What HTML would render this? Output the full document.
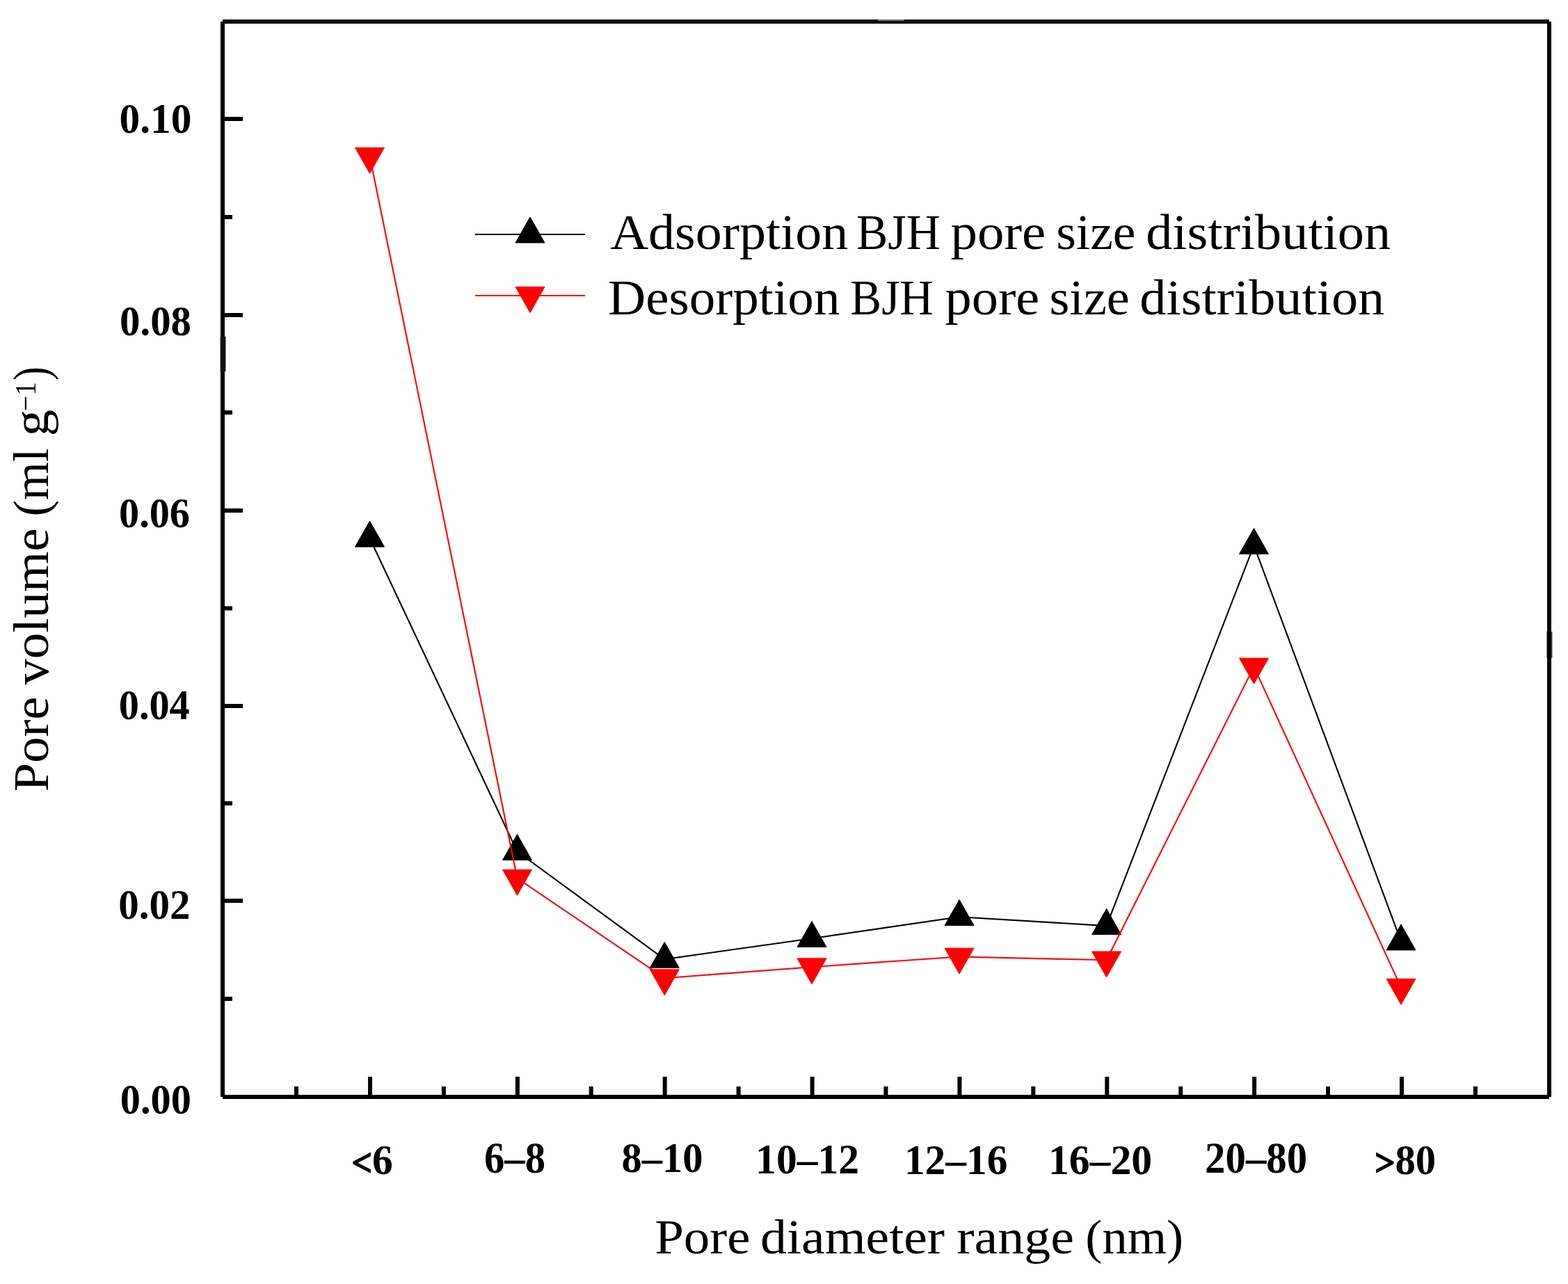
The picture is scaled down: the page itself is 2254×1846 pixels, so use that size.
<!DOCTYPE html>
<html><head><meta charset="utf-8"><title>Pore size distribution</title>
<style>html,body{margin:0;padding:0;background:#fff;}body{width:2254px;height:1846px;overflow:hidden;}svg{display:block;}text{font-family:'Liberation Serif', serif;fill:#000;}.b{font-weight:bold;}</style>
</head><body>
<svg width="2254" height="1846" viewBox="0 0 2254 1846">
<rect x="0" y="0" width="2254" height="1846" fill="#fff"/>
<g fill="#000">
<rect x="317" y="31" width="6" height="1546"/>
<rect x="320" y="28" width="1907" height="6"/>
<rect x="2224" y="31" width="6" height="1546"/>
<rect x="320" y="1574" width="1907" height="6"/>
<rect x="323" y="168" width="26" height="6"/>
<rect x="323" y="450" width="26" height="6"/>
<rect x="323" y="731" width="26" height="6"/>
<rect x="323" y="1012" width="26" height="6"/>
<rect x="323" y="1292" width="26" height="6"/>
<rect x="323" y="309" width="11" height="6"/>
<rect x="323" y="590" width="11" height="6"/>
<rect x="323" y="871.5" width="11" height="6"/>
<rect x="323" y="1152" width="11" height="6"/>
<rect x="323" y="1433" width="11" height="6"/>
<rect x="529.0" y="1548" width="6" height="26"/>
<rect x="740.9" y="1548" width="6" height="26"/>
<rect x="952.7" y="1548" width="6" height="26"/>
<rect x="1164.6" y="1548" width="6" height="26"/>
<rect x="1376.4" y="1548" width="6" height="26"/>
<rect x="1588.3" y="1548" width="6" height="26"/>
<rect x="1800.1" y="1548" width="6" height="26"/>
<rect x="2012.0" y="1548" width="6" height="26"/>
<rect x="423.0" y="1562" width="6" height="12"/>
<rect x="634.9" y="1562" width="6" height="12"/>
<rect x="846.7" y="1562" width="6" height="12"/>
<rect x="1058.6" y="1562" width="6" height="12"/>
<rect x="1270.4" y="1562" width="6" height="12"/>
<rect x="1482.3" y="1562" width="6" height="12"/>
<rect x="1694.2" y="1562" width="6" height="12"/>
<rect x="1906.0" y="1562" width="6" height="12"/>
<rect x="2117.9" y="1562" width="6" height="12"/>
</g>
<defs><linearGradient id="tg" x1="0" y1="0" x2="0" y2="1"><stop offset="0" stop-color="#f2f2f2"/><stop offset="1" stop-color="#000"/></linearGradient></defs>
<rect x="1262" y="27" width="38" height="4" fill="url(#tg)"/>
<defs><linearGradient id="lg" x1="0" y1="0" x2="1" y2="0"><stop offset="0" stop-color="#fff"/><stop offset="0.22" stop-color="#111"/><stop offset="0.88" stop-color="#111"/><stop offset="1" stop-color="#fff"/></linearGradient><linearGradient id="rg" x1="0" y1="0" x2="1" y2="0"><stop offset="0" stop-color="#fff"/><stop offset="0.12" stop-color="#000"/><stop offset="0.68" stop-color="#000"/><stop offset="1" stop-color="#fff"/></linearGradient></defs>
<rect x="315.6" y="484" width="9.4" height="50" fill="url(#lg)"/>
<rect x="2223" y="908" width="9.6" height="38" fill="url(#rg)"/>
<polyline points="531.50,773.80 743.50,1224.20 955.30,1379.10 1167.00,1349.20 1379.00,1318.20 1590.60,1331.10 1802.50,784.10 2014.00,1353.60" fill="none" stroke="#000" stroke-width="2.1" stroke-linejoin="round"/>
<g fill="#000" stroke="#000" stroke-width="1" stroke-linejoin="round">
<polygon points="531.50,749.13 552.50,786.13 510.50,786.13"/>
<polygon points="743.50,1199.53 764.50,1236.53 722.50,1236.53"/>
<polygon points="955.30,1354.43 976.30,1391.43 934.30,1391.43"/>
<polygon points="1167.00,1324.53 1188.00,1361.53 1146.00,1361.53"/>
<polygon points="1379.00,1293.53 1400.00,1330.53 1358.00,1330.53"/>
<polygon points="1590.60,1306.43 1611.60,1343.43 1569.60,1343.43"/>
<polygon points="1802.50,759.43 1823.50,796.43 1781.50,796.43"/>
<polygon points="2014.00,1328.93 2035.00,1365.93 1993.00,1365.93"/>
</g>
<polyline points="531.50,224.70 743.50,1262.70 955.30,1406.20 1167.00,1390.20 1379.00,1375.50 1590.60,1380.30 1802.50,958.60 2014.00,1419.60" fill="none" stroke="#f00" stroke-width="2.1" stroke-linejoin="round"/>
<g fill="#f00" stroke="#f00" stroke-width="1" stroke-linejoin="round">
<polygon points="510.50,212.37 552.50,212.37 531.50,249.37"/>
<polygon points="722.50,1250.37 764.50,1250.37 743.50,1287.37"/>
<polygon points="934.30,1393.87 976.30,1393.87 955.30,1430.87"/>
<polygon points="1146.00,1377.87 1188.00,1377.87 1167.00,1414.87"/>
<polygon points="1358.00,1363.17 1400.00,1363.17 1379.00,1400.17"/>
<polygon points="1569.60,1367.97 1611.60,1367.97 1590.60,1404.97"/>
<polygon points="1781.50,946.27 1823.50,946.27 1802.50,983.27"/>
<polygon points="1993.00,1407.27 2035.00,1407.27 2014.00,1444.27"/>
</g>
<rect x="683" y="336" width="158" height="2" fill="#000"/>
<polygon points="762.00,312.03 783.00,349.03 741.00,349.03" fill="#000" stroke="#000" stroke-width="1" stroke-linejoin="round"/>
<rect x="683" y="424" width="158" height="2" fill="#f00"/>
<polygon points="741.00,412.47 783.00,412.47 762.00,449.47" fill="#f00" stroke="#f00" stroke-width="1" stroke-linejoin="round"/>
<text class="b" x="171.57" y="191.21" font-size="62.27" textLength="103.86" lengthAdjust="spacingAndGlyphs">0.10</text>
<text class="b" x="171.99" y="481.99" font-size="61.05" textLength="103.02" lengthAdjust="spacingAndGlyphs">0.08</text>
<text class="b" x="171.01" y="757.99" font-size="61.05" textLength="101.99" lengthAdjust="spacingAndGlyphs">0.06</text>
<text class="b" x="170.72" y="1034.22" font-size="61.72" textLength="102.07" lengthAdjust="spacingAndGlyphs">0.04</text>
<text class="b" x="170.37" y="1320.80" font-size="61.54" textLength="103.24" lengthAdjust="spacingAndGlyphs">0.02</text>
<text class="b" x="172.79" y="1601.00" font-size="61.54" textLength="102.21" lengthAdjust="spacingAndGlyphs">0.00</text>
<text class="b" x="505.59" y="1687.79" font-size="62.10" textLength="59.22" lengthAdjust="spacingAndGlyphs"><tspan stroke="#000" stroke-width="1.6" font-size="54" dy="2">&lt;</tspan><tspan dy="-2">6</tspan></text>
<text class="b" x="695.99" y="1686.00" font-size="62.67" textLength="88.02" lengthAdjust="spacingAndGlyphs">6–8</text>
<text class="b" x="893.59" y="1685.24" font-size="61.18" textLength="117.02" lengthAdjust="spacingAndGlyphs">8–10</text>
<text class="b" x="1086.11" y="1687.42" font-size="60.74" textLength="148.95" lengthAdjust="spacingAndGlyphs">10–12</text>
<text class="b" x="1299.92" y="1688.00" font-size="60.25" textLength="148.41" lengthAdjust="spacingAndGlyphs">12–16</text>
<text class="b" x="1506.89" y="1688.00" font-size="60.25" textLength="149.27" lengthAdjust="spacingAndGlyphs">16–20</text>
<text class="b" x="1732.08" y="1685.50" font-size="62.68" textLength="147.04" lengthAdjust="spacingAndGlyphs">20–80</text>
<text class="b" x="1976.16" y="1688.39" font-size="61.83" textLength="88.04" lengthAdjust="spacingAndGlyphs"><tspan stroke="#000" stroke-width="1.6" font-size="54" dy="2">&gt;</tspan><tspan dy="-2">80</tspan></text>
<text x="877.20" y="357.80" font-size="72.50" textLength="342.01" lengthAdjust="spacingAndGlyphs">Adsorption</text>
<text x="1230.97" y="357.80" font-size="72.50" textLength="120.87" lengthAdjust="spacingAndGlyphs">BJH</text>
<text x="1366.58" y="357.80" font-size="72.50" textLength="136.68" lengthAdjust="spacingAndGlyphs">pore</text>
<text x="1518.21" y="357.80" font-size="72.50" textLength="114.25" lengthAdjust="spacingAndGlyphs">size</text>
<text x="1647.18" y="357.80" font-size="72.50" textLength="352.03" lengthAdjust="spacingAndGlyphs">distribution</text>
<text x="873.99" y="451.90" font-size="71.00" textLength="333.42" lengthAdjust="spacingAndGlyphs">Desorption</text>
<text x="1222.37" y="451.90" font-size="71.00" textLength="119.36" lengthAdjust="spacingAndGlyphs">BJH</text>
<text x="1358.58" y="451.90" font-size="71.00" textLength="135.67" lengthAdjust="spacingAndGlyphs">pore</text>
<text x="1508.48" y="451.90" font-size="71.00" textLength="115.20" lengthAdjust="spacingAndGlyphs">size</text>
<text x="1638.38" y="451.90" font-size="71.00" textLength="351.83" lengthAdjust="spacingAndGlyphs">distribution</text>
<text x="941.16" y="1802.10" font-size="70.50" textLength="137.48" lengthAdjust="spacingAndGlyphs">Pore</text>
<text x="1093.08" y="1802.10" font-size="70.50" textLength="265.03" lengthAdjust="spacingAndGlyphs">diameter</text>
<text x="1375.18" y="1802.10" font-size="70.50" textLength="168.67" lengthAdjust="spacingAndGlyphs">range</text>
<text x="1560.39" y="1802.10" font-size="70.50" textLength="140.81" lengthAdjust="spacingAndGlyphs">(nm)</text>
<g transform="translate(68.60,1137) rotate(-90)">
<text x="-1.36" y="0.00" font-size="72.00" textLength="136.82" lengthAdjust="spacingAndGlyphs">Pore</text>
<text x="152.20" y="0.00" font-size="72.00" textLength="225.41" lengthAdjust="spacingAndGlyphs">volume</text>
<text x="394.50" y="0.00" font-size="72.00" textLength="97.96" lengthAdjust="spacingAndGlyphs">(ml</text>
<text x="509.76" y="0.00" font-size="72.00" textLength="38.38" lengthAdjust="spacingAndGlyphs">g</text>
<text x="546.00" y="-17.80" font-size="43.00" textLength="42.00" lengthAdjust="spacingAndGlyphs">−1</text>
<text x="590.00" y="0" font-size="72.00" textLength="20.00" lengthAdjust="spacingAndGlyphs">)</text>
</g>
</svg>
</body></html>
